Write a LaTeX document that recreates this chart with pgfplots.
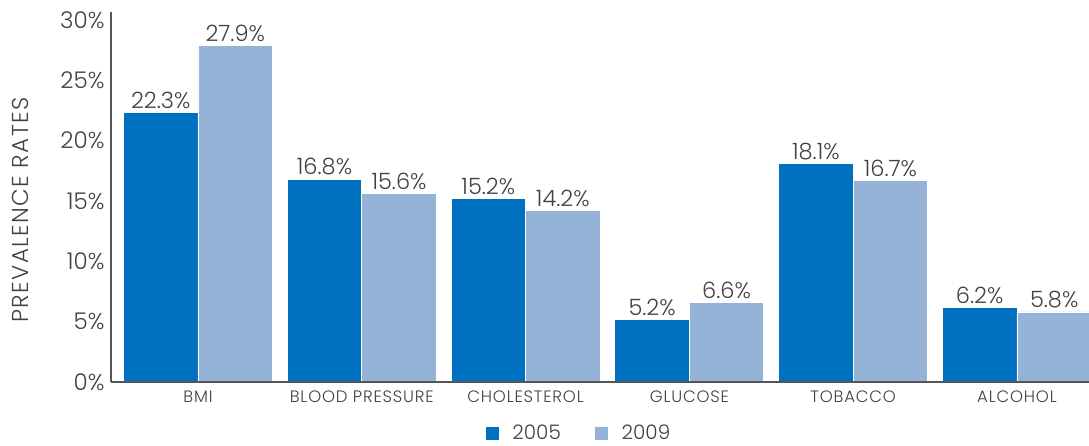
\documentclass[border=0pt]{standalone}
\usepackage{fontspec}
\setmainfont{Poppins}[UprightFont=* Light]
\usepackage{pgfplots}
\pgfplotsset{compat=1.18}
\definecolor{darkbar}{HTML}{0070C0}
\definecolor{lightbar}{HTML}{95B3D7}
\definecolor{txt}{HTML}{414141}
\definecolor{axisgray}{HTML}{555555}
\begin{document}
\begin{tikzpicture}[x=1pt,y=1pt]
\begin{axis}[
  at={(0,0)}, anchor=south west,
  scale only axis, width=978pt, height=370pt,
  ybar=0pt, bar width=74.5pt,
  xmin=-0.531, xmax=5.44,
  ymin=0, ymax=30.65,
  axis x line*=bottom, axis y line*=left,
  axis line style={axisgray, line width=1.6pt},
  axis on top,
  xtick=data,
  xticklabels={BMI, BLOOD PRESSURE, CHOLESTEROL, GLUCOSE, TOBACCO, ALCOHOL},
  x tick label style={font=\fontsize{16.5}{18}\selectfont\addfontfeature{LetterSpace=5}, text=txt, yshift=-5pt},
  ytick={0,5,...,30},
  yticklabel={\pgfmathprintnumber{\tick}\%},
  y tick label style={font=\fontsize{23}{26}\selectfont, text=txt, xshift=-3pt},
  /pgf/number format/assume math mode=true,
  major tick length=0pt,
  ylabel={PREVALENCE RATES},
  ylabel style={font=\fontsize{23}{26}\selectfont\addfontfeature{LetterSpace=6}, text=txt,
    at={(axis description cs:0,0.5)}, anchor=center, yshift=91pt, xshift=-13pt},
  every node near coord/.append style={font=\fontsize{22.5}{26}\selectfont, text=txt},
  nodes near coords={\pgfmathprintnumber[fixed,precision=1,fixed zerofill]{\pgfplotspointmeta}\%},
  legend style={draw=none, at={(0.478,-0.138)}, anchor=center,
    legend columns=2, font=\fontsize{20}{22}\selectfont, text=txt,
    /tikz/every even column/.append style={column sep=31pt}},
  legend image code/.code={\fill[#1] (0pt,-7pt) rectangle (14pt,7pt);\path (25pt,0pt);},
]
\addplot[fill=darkbar, draw=white, line width=0.8pt] coordinates
  {(0,22.3) (1,16.8) (2,15.2) (3,5.2) (4,18.1) (5,6.2)};
\addplot[fill=lightbar, draw=white, line width=0.8pt] coordinates
  {(0,27.9) (1,15.6) (2,14.2) (3,6.6) (4,16.7) (5,5.8)};
\legend{2005, 2009}
\end{axis}
\pgfresetboundingbox
\path (-111pt,-63pt) rectangle (978pt,382pt);
\end{tikzpicture}
\end{document}
